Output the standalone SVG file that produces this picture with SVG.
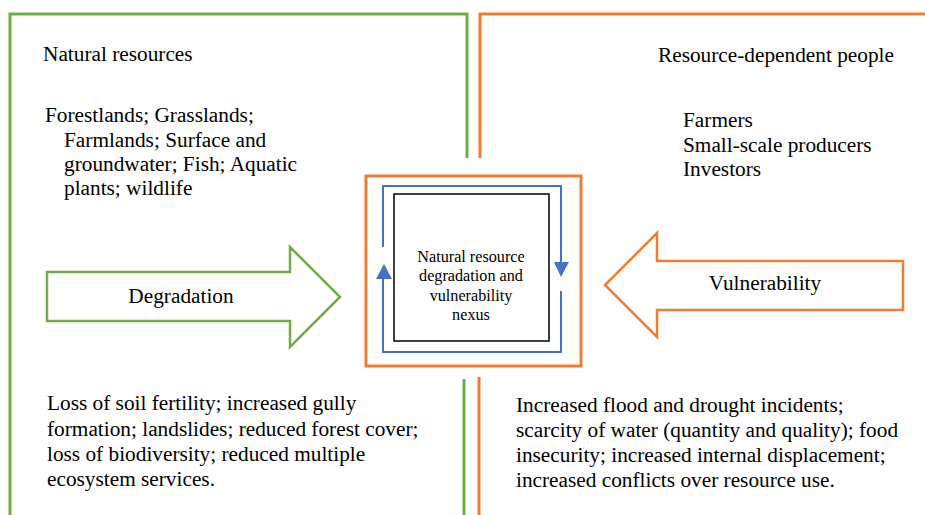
<svg xmlns="http://www.w3.org/2000/svg" width="925" height="515" viewBox="0 0 925 515">
<style>
text{font-family:'Liberation Serif','Times New Roman','DejaVu Serif',serif;fill:#000;}
.t{font-size:21.3px;}
.c{font-size:16.2px;text-anchor:middle;}
.g{fill:none;stroke:#70AD47;stroke-width:3;}
.o{fill:none;stroke:#ED7D31;stroke-width:3;}
.b{fill:none;stroke:#4472C4;stroke-width:2;}
</style>
<rect width="925" height="515" fill="#fff"/>
<g id="natural-resources">
<path class="g" d="M10,515 V14 H467 V158"/>
<path class="g" d="M464,379 V515"/>
<text class="t" x="43" y="61" font-family="Liberation Serif, serif">Natural resources</text>
<text class="t" x="45" y="122" font-family="Liberation Serif, serif">Forestlands; Grasslands;</text>
<text class="t" x="64" y="147" font-family="Liberation Serif, serif">Farmlands; Surface and</text>
<text class="t" x="64" y="171" font-family="Liberation Serif, serif">groundwater; Fish; Aquatic</text>
<text class="t" x="64" y="195" font-family="Liberation Serif, serif">plants; wildlife</text>
</g>
<g id="resource-dependent-people">
<path class="o" d="M480,158 V14 H925"/>
<path class="o" d="M479,377 V515"/>
<text class="t" x="658" y="62" font-family="Liberation Serif, serif">Resource-dependent people</text>
<text class="t" x="683" y="127" font-family="Liberation Serif, serif">Farmers</text>
<text class="t" x="683" y="152" font-family="Liberation Serif, serif">Small-scale producers</text>
<text class="t" x="683" y="176" font-family="Liberation Serif, serif">Investors</text>
</g>
<g id="degradation">
<path fill="#fff" stroke="#70AD47" stroke-width="2.5" d="M47,272 H290 V247 L340,297 L290,347 V321 H47 Z"/>
<text class="t" x="181" y="303" text-anchor="middle" font-family="Liberation Serif, serif">Degradation</text>
</g>
<g id="vulnerability">
<path fill="#fff" stroke="#ED7D31" stroke-width="2.5" d="M903,261 H657 V233 L605,285 L657,337 V310 H903 Z"/>
<text class="t" x="765" y="290" text-anchor="middle" font-family="Liberation Serif, serif">Vulnerability</text>
</g>
<g id="nexus">
<rect class="o" x="366" y="176" width="215" height="190"/>
<rect x="394" y="194" width="155" height="147" fill="none" stroke="#000" stroke-width="1.5"/>
<text class="c" x="471" y="262" font-family="Liberation Serif, serif">Natural resource</text>
<text class="c" x="471" y="281" font-family="Liberation Serif, serif">degradation and</text>
<text class="c" x="471" y="301" font-family="Liberation Serif, serif">vulnerability</text>
<text class="c" x="471" y="320" font-family="Liberation Serif, serif">nexus</text>
</g>
<g id="connectors">
<path class="b" d="M383,247 V186 H561 V264"/>
<polygon fill="#4472C4" points="554,262 569,262 561,277"/>
<path class="b" d="M561,291 V352 H383 V278"/>
<polygon fill="#4472C4" points="376,279 392,279 384,264"/>
</g>
<g id="effects">
<text class="t" x="47" y="410" font-family="Liberation Serif, serif">Loss of soil fertility; increased gully</text>
<text class="t" x="47" y="436" font-family="Liberation Serif, serif">formation; landslides; reduced forest cover;</text>
<text class="t" x="47" y="461" font-family="Liberation Serif, serif">loss of biodiversity; reduced multiple</text>
<text class="t" x="47" y="486" font-family="Liberation Serif, serif">ecosystem services.</text>
<text class="t" x="516" y="412" font-family="Liberation Serif, serif">Increased flood and drought incidents;</text>
<text class="t" x="516" y="437" font-family="Liberation Serif, serif">scarcity of water (quantity and quality); food</text>
<text class="t" x="516" y="462" font-family="Liberation Serif, serif">insecurity; increased internal displacement;</text>
<text class="t" x="516" y="487" font-family="Liberation Serif, serif">increased conflicts over resource use.</text>
</g>
</svg>
